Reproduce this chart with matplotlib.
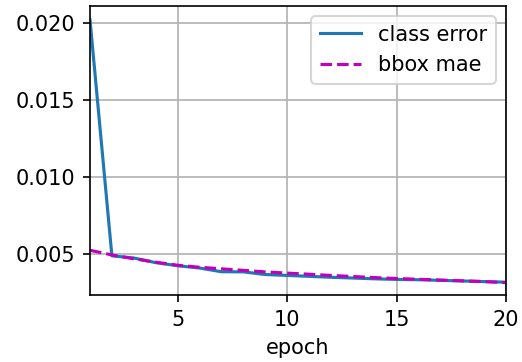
import matplotlib
matplotlib.use("Agg")
import matplotlib.pyplot as plt

epochs = list(range(1, 21))
class_error = [0.0202, 0.00489, 0.00475, 0.00445, 0.00425, 0.0041, 0.00386, 0.00385,
               0.00368, 0.00362, 0.00356, 0.0035, 0.00345, 0.0034, 0.00336, 0.00334,
               0.0033, 0.00326, 0.00322, 0.00318]
bbox_mae = [0.00525, 0.00495, 0.0047, 0.00448, 0.00428, 0.00415, 0.00405, 0.00395,
            0.00385, 0.00377, 0.0037, 0.00362, 0.00355, 0.00348, 0.00342, 0.00337,
            0.00332, 0.00327, 0.00322, 0.00315]
legend_labels = ["class error", "bbox mae"]

dpi = 150
fig = plt.figure(figsize=(522 / dpi, 362 / dpi), dpi=dpi)
W, H = 522, 362
ax = fig.add_axes([90 / W, (H - 295) / H, (506 - 90) / W, (295 - 6) / H])
ax.plot(epochs, class_error, "-", label=legend_labels[0])
ax.plot(epochs, bbox_mae, "m--", label=legend_labels[1])
ax.set_xlim(1, 20)
ax.set_ylim(0.00235, 0.0211)
ax.set_xlabel("epoch")
ax.grid(True)
ax.legend(loc="upper right")
fig.savefig("out.png", dpi=dpi)
